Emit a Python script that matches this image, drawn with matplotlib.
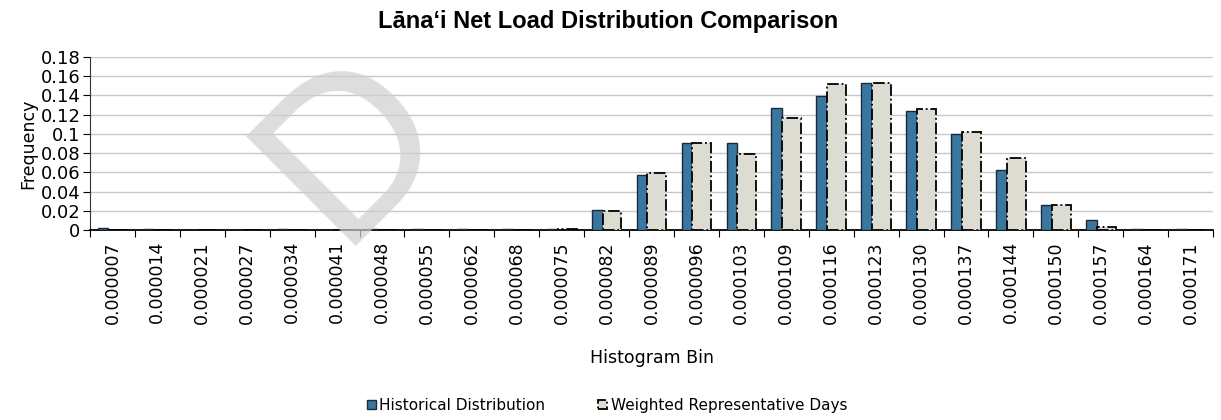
import numpy as np
import matplotlib.pyplot as plt

# histogram bin labels and frequencies
bins = ['0.000007', '0.000014', '0.000021', '0.000027', '0.000034',
        '0.000041', '0.000048', '0.000055', '0.000062', '0.000068',
        '0.000075', '0.000082', '0.000089', '0.000096', '0.000103',
        '0.000109', '0.000116', '0.000123', '0.000130', '0.000137',
        '0.000144', '0.000150', '0.000157', '0.000164', '0.000171']
historical = [0.0025, 0.0008, 0.0003, 0.0003, 0.0008, 0.0003, 0.0008, 0.0008,
              0.0008, 0.0008, 0.0015, 0.021, 0.057, 0.091, 0.091, 0.127,
              0.139, 0.153, 0.124, 0.100, 0.062, 0.026, 0.010, 0.001, 0.0007]
weighted = [0.0005, 0.0003, 0.0002, 0.0002, 0.0004, 0.0002, 0.0004, 0.0004,
            0.0004, 0.0004, 0.0008, 0.020, 0.059, 0.091, 0.079, 0.117,
            0.152, 0.153, 0.126, 0.102, 0.075, 0.026, 0.0035, 0.0005, 0.0003]
yticks = [0, 0.02, 0.04, 0.06, 0.08, 0.1, 0.12, 0.14, 0.16, 0.18]
ytick_labels = ['0', '0.02', '0.04', '0.06', '0.08', '0.1', '0.12', '0.14', '0.16', '0.18']


def main():
    plt.rcParams['font.family'] = ['DejaVu Sans']

    fig = plt.figure(figsize=(12.21, 4.2), dpi=100)
    ax = fig.add_axes([0.0737, 0.4524, 0.9198, 0.4119])

    x = np.arange(len(bins))
    b1 = ax.bar(x - 0.21, historical, width=0.24, color='#3a77a0',
                edgecolor='#1c2a38', linewidth=1.0, zorder=3,
                label='Historical Distribution')
    b2 = ax.bar(x + 0.12, weighted, width=0.42, color='#dcdcd2',
                edgecolor='black', linewidth=1.3, linestyle='-.', zorder=3,
                label='Weighted Representative Days')

    ax.set_xlim(-0.5, len(bins) - 0.5)
    ax.set_ylim(0, 0.18)
    ax.set_yticks(yticks)
    ax.set_yticklabels(ytick_labels, fontsize=13)
    ax.yaxis.grid(True, color='#c8c8c8', linewidth=1.0, zorder=0)
    ax.set_axisbelow(True)

    # ticks between categories, labels at the centres
    ax.set_xticks(np.arange(len(bins) + 1) - 0.5)
    ax.set_xticklabels([])
    ax.set_xticks(x, minor=True)
    ax.set_xticklabels(bins, minor=True, rotation=90, fontsize=12.5)
    ax.tick_params(axis='x', which='minor', length=0, pad=8)
    ax.tick_params(axis='x', which='major', length=5, direction='out')
    ax.tick_params(axis='y', length=5, direction='out', pad=2)

    for s in ['top', 'right']:
        ax.spines[s].set_visible(False)
    ax.spines['left'].set_color('#333333')
    ax.spines['bottom'].set_color('black')
    ax.spines['bottom'].set_linewidth(1.3)

    ax.set_ylabel('Frequency', fontsize=12.5, labelpad=2)
    ax.set_xlabel('Histogram Bin', fontsize=12.5, labelpad=18)
    fig.text(0.498, 0.948, 'Lāna\u2018i Net Load Distribution Comparison',
             ha='center', va='center', fontsize=17, fontweight='bold',
             family=['Liberation Sans'])

    fig.legend(handles=[b1, b2], loc='center', bbox_to_anchor=(0.497, 0.035),
               ncol=2, frameon=False, fontsize=11, handlelength=0.6,
               handleheight=0.6, handletextpad=0.2, columnspacing=3.5)

    # faint draft watermark (only the first letter falls inside the picture)
    fig.text(0.2768, 0.414, 'D', rotation=45, rotation_mode='anchor',
             ha='left', va='baseline', fontsize=162, color='#cfcfcf',
             family=['Liberation Sans'], zorder=10, alpha=0.7)

    plt.savefig('out.png', dpi=100)


if __name__ == "__main__":
    main()
